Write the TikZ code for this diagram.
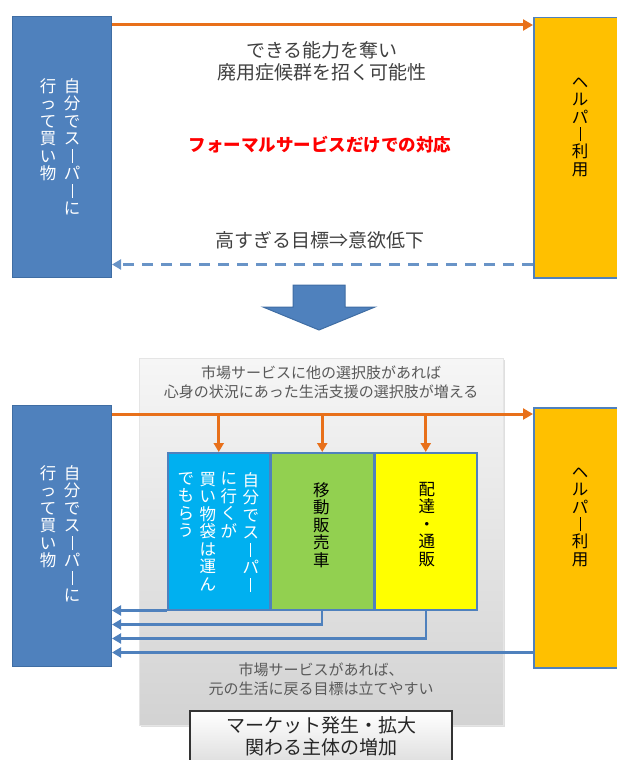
\documentclass[tikz,border=0pt]{standalone}
\usepackage{fontspec}
\setmainfont{Noto Sans CJK JP}
\usetikzlibrary{positioning, arrows.meta, calc, shadows}
\definecolor{selfblue}{HTML}{4F81BD}
\definecolor{selfline}{HTML}{3F6DA3}
\definecolor{helperorange}{HTML}{FFC000}
\definecolor{flowline}{HTML}{E8701A}
\definecolor{owncyan}{HTML}{00B0F0}
\definecolor{mobilegreen}{HTML}{92D050}
\definecolor{mailyellow}{HTML}{FFFF00}
\definecolor{textgray}{HTML}{404040}
\definecolor{notegray}{HTML}{595959}

% Tategaki: ein Zeichen pro Zeile, Langvokal senkrecht
\newcommand\tateend{}
\newcommand\tatechar[1]{\ifx ー#1\vrule width 0.06em height 0.82em depth 0.06em\else#1\fi}
\newcommand\tateloop[1]{\ifx\tateend#1\else\hbox to 1em{\hss\tatechar{#1}\hss}\expandafter\tateloop\fi}
\newcommand\tate[1]{\vbox{\baselineskip=1.06em\lineskiplimit=-1em\lineskip=0pt\tateloop#1\tateend}}

\begin{document}
\begin{tikzpicture}[
    x=1pt, y=-1pt,
    >={Triangle[length=10pt, width=11pt]},
    font={\fontsize{19}{22}\selectfont},
    selfbox/.style={draw=selfline, line width=1pt, fill=selfblue, rectangle, anchor=north west, minimum width=99pt, minimum height=261pt},
    helperbox/.style={draw=selfblue, line width=1.5pt, fill=helperorange, rectangle, anchor=north west, minimum width=95pt, minimum height=260pt},
    tatetext/.style={anchor=north, inner sep=0pt, font={\fontsize{16.5}{17}\selectfont}},
    servicebox/.style={draw=selfblue, line width=1.5pt, rectangle, anchor=north west, minimum width=102pt, minimum height=157pt},
    flowarrow/.style={->, draw=flowline, line width=3pt},
    backarrow/.style={-{Triangle[length=9pt, width=10pt]}, draw=selfblue, line width=2.2pt},
    note/.style={align=center, text=notegray, inner sep=0pt, font={\fontsize{15}{19}\selectfont}}
]
\useasboundingbox (0,0) rectangle (616,760);

% --- Oben: nur formelle Dienste ---
\node[selfbox] (topself) at (12,16) {};
\node[helperbox] (tophelper) at (533,17) {};
\node[tatetext, text=white] (topselfR) at ($(topself.north)+(10,62)$) {\tate{自分でスーパーに}};
\node[tatetext, text=white] (topselfL) at ($(topself.north)+(-14,62)$) {\tate{行って買い物}};
\node[tatetext, text=black] (tophelperT) at ($(tophelper.north west)+(47,60)$) {\tate{ヘルパー利用}};

% Pfeile zwischen den Boxen
\coordinate (T_start) at ($(topself.north east)+(0,9)$);
\draw[flowarrow] (T_start) -- (tophelper.west |- T_start);
\coordinate (D_start) at ($(tophelper.south west)+(0,-14)$);
\draw[backarrow, dash pattern=on 11pt off 8pt, line width=2.5pt, draw=selfblue!85!white] (D_start) -- (topself.east |- D_start);

\node[align=center, text=textgray, inner sep=0pt] (loss) at (322,61) {できる能力を奪い\\廃用症候群を招く可能性};
\node[text=red, inner sep=0pt, font={\fontsize{17.5}{20}\selectfont\bfseries}] (formal) at (320,145) {フォーマルサービスだけでの対応};
\node[text=textgray, inner sep=0pt] (goal) at (320,240) {高すぎる目標⇒意欲低下};

% Grosser Pfeil nach unten
\draw[fill=selfblue, draw=selfline, line width=1pt] (293,285) -- (345,285) -- (345,307) -- (375,307) -- (319,330) -- (263,307) -- (293,307) -- cycle;

% --- Unten: Markt mit Wahlmoeglichkeiten ---
\node[rectangle, anchor=north west, minimum width=364pt, minimum height=367pt, top color=gray!7, bottom color=gray!35, draw=gray!20, drop shadow={shadow xshift=1.5pt, shadow yshift=-1.5pt, opacity=0.25}] (market) at (139,358) {};
\node[note] (choice) at ($(market.north)+(0,24)$) {市場サービスに他の選択肢があれば\\心身の状況にあった生活支援の選択肢が増える};

\node[selfbox] (botself) at (12,405) {};
\node[helperbox] (bothelper) at (533,407) {};
\node[tatetext, text=white] (botselfR) at ($(botself.north)+(10,60)$) {\tate{自分でスーパーに}};
\node[tatetext, text=white] (botselfL) at ($(botself.north)+(-14,60)$) {\tate{行って買い物}};
\node[tatetext, text=black] (bothelperT) at ($(bothelper.north west)+(47,60)$) {\tate{ヘルパー利用}};

% Die drei Angebote
\node[servicebox, fill=owncyan] (own) at (167,452) {};
\node[servicebox, fill=mobilegreen, anchor=north west] (mobile) at (own.north east) {};
\node[servicebox, fill=mailyellow, anchor=north west] (mail) at (mobile.north east) {};
\foreach \dx/\col in {32/A, 10/B, -11/C, -33/D} {
    \coordinate (own\col) at ($(own.north)+(\dx,20)$);
}
\node[tatetext, text=white] (ownAT) at (ownA) {\tate{自分でスーパー}};
\node[tatetext, text=white] (ownBT) at (ownB) {\tate{に行くが}};
\node[tatetext, text=white] (ownCT) at (ownC) {\tate{買い物袋は運ん}};
\node[tatetext, text=white] (ownDT) at (ownD) {\tate{でもらう}};
\node[tatetext, text=black] (mobileT) at ($(mobile.north)+(-1,30)$) {\tate{移動販売車}};
\node[tatetext, text=black] (mailT) at ($(mail.north)+(1,30)$) {\tate{配達・通販}};

% Oranger Pfeil mit Abzweigungen
\coordinate (B_start) at ($(botself.north east)+(0,9)$);
\draw[flowarrow] (B_start) -- (bothelper.west |- B_start);
\foreach \svc in {own, mobile, mail} {
    \draw[flowarrow, -{Triangle[length=9pt, width=10pt]}] (\svc.north |- B_start) -- (\svc.north);
}

% Rueckwege zur eigenen Einkaufsbox
\draw[backarrow] (own.south west) -- (botself.east |- own.south west);
\coordinate (R1) at ($(mobile.south)+(0,14)$);
\draw[backarrow] (mobile.south) -- (R1) -- (botself.east |- R1);
\coordinate (R2) at ($(mail.south)+(0,28)$);
\draw[backarrow] (mail.south) -- (R2) -- (botself.east |- R2);
\coordinate (R3) at ($(bothelper.south west)+(0,-16)$);
\draw[backarrow] (R3) -- (botself.east |- R3);

\node[note] (easy) at ($(market.south)+(0,-46)$) {市場サービスがあれば、\\元の生活に戻る目標は立てやすい};

% Markt-Box unten
\node[rectangle, anchor=north, minimum width=262pt, minimum height=62pt, top color=white, bottom color=gray!30, draw=gray!40!black, line width=1.5pt] (growth) at (321,710) {};
\node[align=center, inner sep=0pt, text=black!85] (growthT) at (321,736) {マーケット発生・拡大\\関わる主体の増加};
\end{tikzpicture}
\end{document}
